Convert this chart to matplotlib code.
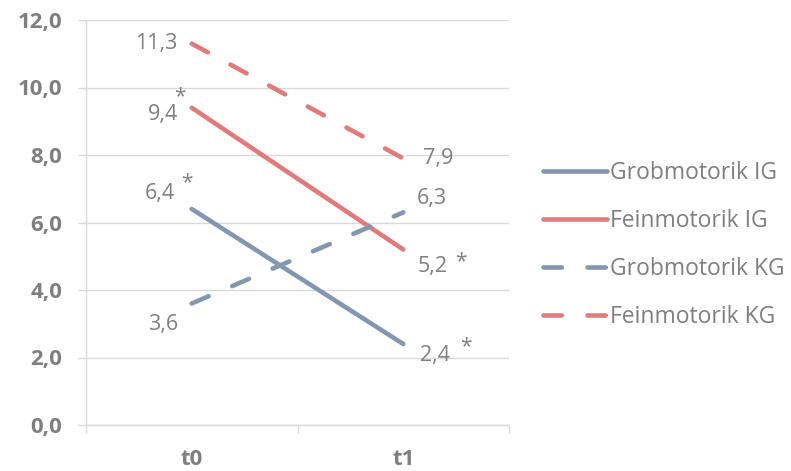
import matplotlib
matplotlib.use('Agg')
import matplotlib.pyplot as plt
import numpy as np

plt.rcParams['font.family'] = ['Open Sans', 'DejaVu Sans']

# Data
zeitpunkte = ['t0', 't1']
grob_ig = [6.4, 2.4]
fein_ig = [9.4, 5.2]
grob_kg = [3.6, 6.3]
fein_kg = [11.3, 7.9]
serien = ['Grobmotorik IG', 'Feinmotorik IG', 'Grobmotorik KG', 'Feinmotorik KG']
y_ticks = [0, 2, 4, 6, 8, 10, 12]

blau = '#8497B0'
rot = '#E07B7B'
grau_text = '#7F7F7F'
grau_linie = '#D9D9D9'

fig = plt.figure(figsize=(7.91, 4.71), dpi=100)
ax = fig.add_axes([86 / 791, 46 / 471, 423 / 791, 405 / 471])

x = np.array([0.5, 1.5])
dash = (0, (4.0, 5.6))
lw = 3.3
ax.plot(x, grob_ig, color=blau, lw=lw, solid_capstyle='round', label=serien[0])
ax.plot(x, fein_ig, color=rot, lw=lw, solid_capstyle='round', label=serien[1])
ax.plot(x, grob_kg, color=blau, lw=lw, ls=dash, dash_capstyle='round', label=serien[2])
ax.plot(x, fein_kg, color=rot, lw=lw, ls=dash, dash_capstyle='round', label=serien[3])

ax.set_xlim(0, 2)
ax.set_ylim(0, 12)
ax.set_yticks(y_ticks)
ax.set_yticklabels([f'{v:.1f}'.replace('.', ',') for v in y_ticks],
                   fontsize=16, fontweight='bold', color=grau_text)
ax.set_xticks(x)
ax.set_xticklabels(zeitpunkte, fontsize=16, fontweight='bold', color=grau_text)
ax.set_xticks([0, 1, 2], minor=True)
ax.tick_params(axis='x', which='major', length=0, pad=17)
ax.tick_params(axis='x', which='minor', length=6, color=grau_linie, width=1)
ax.tick_params(axis='y', length=6, color=grau_linie, width=1, pad=11)
ax.grid(axis='y', color=grau_linie, lw=1)
ax.set_axisbelow(True)
for s in ['top', 'right']:
    ax.spines[s].set_visible(False)
for s in ['left', 'bottom']:
    ax.spines[s].set_color(grau_linie)
    ax.spines[s].set_linewidth(1)

def fmt(v):
    return f'{v:.1f}'.replace('.', ',')

lab = dict(fontsize=15.5, color=grau_text, textcoords='offset pixels', va='center')
# t0 labels
ax.annotate(fmt(fein_kg[0]), (x[0], fein_kg[0]), xytext=(-14, 0), ha='right', **lab)
ax.annotate(fmt(fein_ig[0]), (x[0], fein_ig[0]), xytext=(-14, -7), ha='right', **lab)
ax.annotate(fmt(grob_ig[0]), (x[0], grob_ig[0]), xytext=(-17, 16), ha='right', **lab)
ax.annotate(fmt(grob_kg[0]), (x[0], grob_kg[0]), xytext=(-14, -21), ha='right', **lab)
# t1 labels
ax.annotate(fmt(fein_kg[1]), (x[1], fein_kg[1]), xytext=(20, 0), ha='left', **lab)
ax.annotate(fmt(grob_kg[1]), (x[1], grob_kg[1]), xytext=(14, 14), ha='left', **lab)
ax.annotate(fmt(fein_ig[1]), (x[1], fein_ig[1]), xytext=(14, -17), ha='left', **lab)
ax.annotate(fmt(grob_ig[1]), (x[1], grob_ig[1]), xytext=(17, -11), ha='left', **lab)

# Signifikanz-Sterne
stern = dict(fontsize=15, color=grau_text, textcoords='offset pixels', ha='center', va='center')
ax.annotate('*', (x[0], fein_ig[0]), xytext=(-12, 11), **stern)
ax.annotate('*', (x[0], grob_ig[0]), xytext=(-5, 26), **stern)
ax.annotate('*', (x[1], fein_ig[1]), xytext=(58, -12), **stern)
ax.annotate('*', (x[1], grob_ig[1]), xytext=(63, -3), **stern)

leg = fig.legend(loc='upper left', bbox_to_anchor=(543 / 791, 1 - 161 / 471),
                 frameon=False, fontsize=16.5, handlelength=2.8, handletextpad=0.12,
                 labelspacing=1.05, borderpad=0, borderaxespad=0,
                 labelcolor=grau_text)

fig.savefig('out.png', dpi=100)
